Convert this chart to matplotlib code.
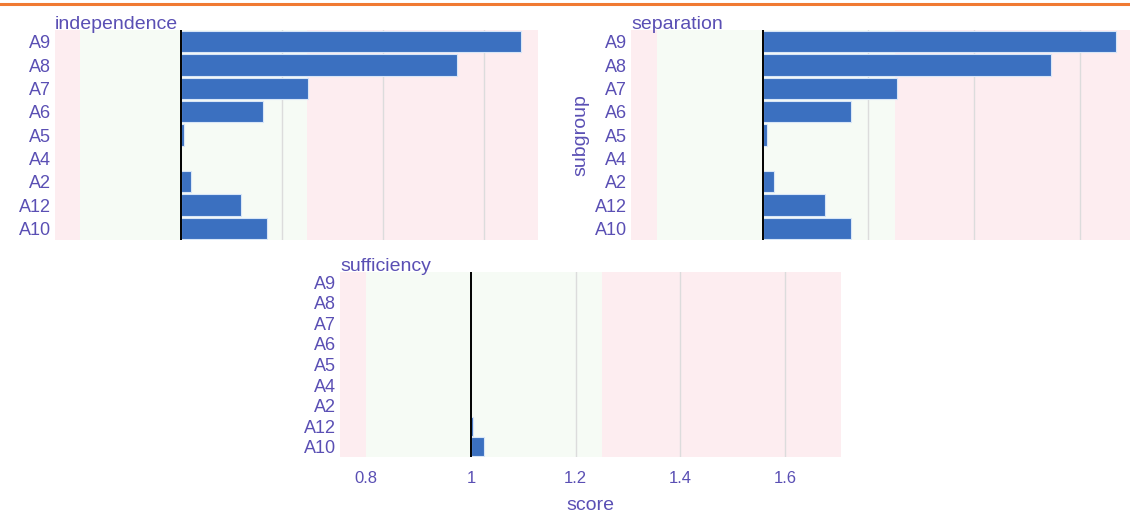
import matplotlib.pyplot as plt
import numpy as np

plt.rcParams['font.family'] = ['Liberation Sans', 'DejaVu Sans']

# ---------- données ----------
subgroups = ["A9", "A8", "A7", "A6", "A5", "A4", "A2", "A12", "A10"]
independence = [1.673, 1.547, 1.251, 1.162, 1.006, 1.0, 1.020, 1.119, 1.170]
separation = [1.669, 1.545, 1.255, 1.166, 1.007, 1.0, 1.021, 1.117, 1.166]
sufficiency = [1.0, 1.0, 1.0, 1.0, 1.0, 1.0, 1.0, 1.005, 1.025]
xticks = [0.8, 1.0, 1.2, 1.4, 1.6]
xtick_labels = ["0.8", "1", "1.2", "1.4", "1.6"]

txt_col = "#5a4fb4"
bar_col = "#3b70c0"
x_lo, x_hi = 0.75, 1.707
ok_lo, ok_hi = 0.8, 1.25

fig = plt.figure(figsize=(11.3, 5.14), dpi=100)
W, H = 1130, 514

# ligne orange en haut
fig.add_artist(plt.Line2D([0, 1], [1 - 3.5 / H, 1 - 3.5 / H], color="#f07a32", lw=2.2))


def panel(rect_px, values, title, ylabel=None, xlabel=None, show_xt=False):
    x0, y0, x1, y1 = rect_px
    ax = fig.add_axes([x0 / W, 1 - y1 / H, (x1 - x0) / W, (y1 - y0) / H])
    ax.set_xlim(x_lo, x_hi)
    ax.set_ylim(len(subgroups) - 0.5, -0.5)
    ax.axvspan(x_lo, ok_lo, color="#fdedf0", lw=0, zorder=0)
    ax.axvspan(ok_lo, ok_hi, color="#f6fbf5", lw=0, zorder=0)
    ax.axvspan(ok_hi, x_hi, color="#fdedf0", lw=0, zorder=0)
    for g in [1.2, 1.4, 1.6]:
        ax.axvline(g, color="#dcdcdc", lw=1, zorder=1)
    ypos = np.arange(len(subgroups))
    vals = np.array(values)
    ax.barh(ypos, vals - 1.0, left=1.0, height=0.92, color=bar_col,
            edgecolor="#d8e6f7", linewidth=0.8, zorder=2)
    ax.axvline(1.0, color="black", lw=1.4, zorder=3)
    ax.set_yticks(ypos)
    ax.set_yticklabels(subgroups, color=txt_col, fontsize=13)
    ax.tick_params(axis="y", length=0, pad=3)
    if show_xt:
        ax.set_xticks(xticks)
        ax.set_xticklabels(xtick_labels, color=txt_col, fontsize=12)
        ax.tick_params(axis="x", length=0, pad=10)
    else:
        ax.set_xticks([])
    for s in ax.spines.values():
        s.set_visible(False)
    ax.text(0.0, 0.985, title, transform=ax.transAxes, color=txt_col,
            fontsize=14, ha="left", va="bottom")
    if ylabel:
        ax.set_ylabel(ylabel, color=txt_col, fontsize=14, labelpad=4)
    if xlabel:
        ax.set_xlabel(xlabel, color=txt_col, fontsize=14, labelpad=8)
    return ax


panel((55, 30, 538, 240), independence, "independence")
panel((631, 30, 1136, 240), separation, "separation", ylabel="subgroup")
panel((340, 272, 841, 457), sufficiency, "sufficiency", xlabel="score", show_xt=True)

fig.savefig("out.png", dpi=100)
